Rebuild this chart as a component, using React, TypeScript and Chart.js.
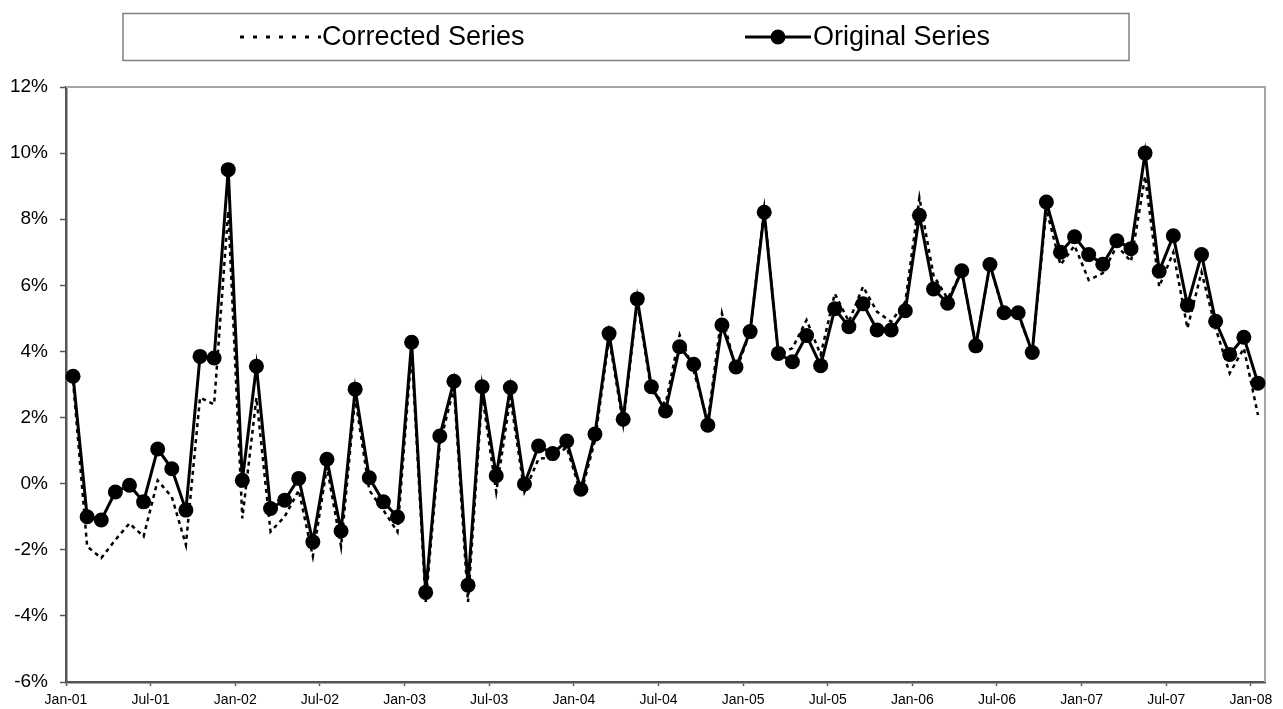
import React, { useEffect, useRef } from 'react';
import { Chart, registerables } from 'chart.js';

Chart.register(...registerables);

// x tick positions (months since Jan-01) and labels
const xTickMonths = [0, 6, 12, 18, 24, 30, 36, 42, 48, 54, 60, 66, 72, 78, 84];
const xTickLabels = ['Jan-01', 'Jul-01', 'Jan-02', 'Jul-02', 'Jan-03', 'Jul-03', 'Jan-04', 'Jul-04', 'Jan-05', 'Jul-05', 'Jan-06', 'Jul-06', 'Jan-07', 'Jul-07', 'Jan-08'];

// monthly values in %, Jan-01 .. Jan-08
const originalSeries = [
  3.25, -1.0, -1.1, -0.25, -0.05, -0.55, 1.05, 0.45, -0.8, 3.85, 3.8, 9.5,
  0.1, 3.55, -0.75, -0.5, 0.16, -1.76, 0.74, -1.43, 2.86, 0.18, -0.55, -1.01,
  4.28, -3.29, 1.44, 3.1, -3.07, 2.93, 0.24, 2.91, -0.01, 1.14, 0.91, 1.29,
  -0.17, 1.5, 4.54, 1.95, 5.59, 2.93, 2.2, 4.14, 3.61, 1.77, 4.8, 3.53,
  4.6, 8.21, 3.94, 3.69, 4.48, 3.57, 5.29, 4.75, 5.44, 4.65, 4.65, 5.23,
  8.12, 5.89, 5.46, 6.44, 4.17, 6.63, 5.17, 5.17, 3.97, 8.52, 7.0, 7.47,
  6.93, 6.64, 7.35, 7.11, 10.0, 6.43, 7.5, 5.4, 6.93, 4.91, 3.91, 4.43,
  3.04,
];

const correctedSeries = [
  3.1, -1.9, -2.25, -1.7, -1.2, -1.6, 0.1, -0.4, -1.85, 2.6, 2.4, 8.25,
  -1.05, 2.6, -1.45, -1.0, -0.2, -2.2, 0.5, -1.9, 2.6, -0.2, -0.8, -1.46,
  4.0, -3.58, 1.2, 2.9, -3.58, 2.7, -0.25, 2.6, -0.25, 0.75, 0.8, 1.1,
  -0.3, 1.3, 4.4, 1.8, 5.5, 2.8, 2.4, 4.5, 3.4, 1.9, 5.15, 3.4,
  4.6, 8.3, 3.9, 4.1, 4.95, 3.9, 5.75, 4.9, 5.96, 5.2, 4.9, 5.5,
  8.65, 6.3, 5.6, 6.4, 4.2, 6.6, 5.15, 5.1, 4.0, 8.3, 6.62, 7.2,
  6.16, 6.37, 7.2, 6.72, 9.3, 5.96, 7.0, 4.7, 6.4, 4.7, 3.34, 4.1,
  2.08,
];

const yMin = -6;
const yMax = 12;
const yStep = 2;

const FONT = "'Liberation Sans', Arial, sans-serif";

export default function App() {
  const ref = useRef<HTMLCanvasElement | null>(null);

  useEffect(() => {
    if (!ref.current) return;
    const toPts = (arr: number[]) => arr.map((v, i) => ({ x: i + 0.5, y: v }));

    const framePlugin = {
      id: 'frame',
      beforeDatasetsDraw(chart: any) {
        const { ctx, chartArea } = chart;
        ctx.save();
        ctx.strokeStyle = '#a6a6a6';
        ctx.lineWidth = 2;
        ctx.beginPath();
        ctx.moveTo(chartArea.left, chartArea.top);
        ctx.lineTo(chartArea.right, chartArea.top);
        ctx.lineTo(chartArea.right, chartArea.bottom);
        ctx.stroke();
        ctx.restore();
      },
    };

    const legendPlugin = {
      id: 'customLegend',
      afterDraw(chart: any) {
        const { ctx } = chart;
        ctx.save();
        // box
        ctx.strokeStyle = '#808080';
        ctx.lineWidth = 1.5;
        ctx.strokeRect(123, 13.5, 1006, 47);
        const cy = 37;
        ctx.strokeStyle = '#000';
        // dotted sample
        ctx.lineWidth = 3;
        ctx.setLineDash([4, 9]);
        ctx.beginPath();
        ctx.moveTo(240, cy);
        ctx.lineTo(321, cy);
        ctx.stroke();
        ctx.setLineDash([]);
        // solid sample with marker
        ctx.lineWidth = 3;
        ctx.beginPath();
        ctx.moveTo(745, cy);
        ctx.lineTo(811, cy);
        ctx.stroke();
        ctx.fillStyle = '#000';
        ctx.beginPath();
        ctx.arc(778, cy, 7.5, 0, Math.PI * 2);
        ctx.fill();
        // text
        ctx.font = `27px ${FONT}`;
        ctx.textBaseline = 'middle';
        ctx.textAlign = 'left';
        ctx.fillText('Corrected Series', 322, cy + 1);
        ctx.fillText('Original Series', 813, cy + 1);
        ctx.restore();
      },
    };

    const chart = new Chart(ref.current, {
      type: 'line',
      data: {
        datasets: [
          {
            label: 'Original Series',
            data: toPts(originalSeries),
            borderColor: '#000',
            backgroundColor: '#000',
            borderWidth: 3,
            pointRadius: 7.5,
            pointBorderWidth: 0,
            pointBackgroundColor: '#000',
            tension: 0,
            order: 1,
            clip: false as any,
          },
          {
            label: 'Corrected Series',
            data: toPts(correctedSeries),
            borderColor: '#000',
            borderWidth: 2.5,
            borderDash: [4, 4],
            pointRadius: 0,
            tension: 0,
            order: 2,
            clip: false as any,
          },
        ],
      },
      options: {
        animation: false,
        responsive: false,
        maintainAspectRatio: false,
        layout: { padding: { top: 87, right: 18, left: 0, bottom: 0 } },
        plugins: {
          legend: { display: false },
          tooltip: { enabled: false },
          title: { display: false },
        },
        scales: {
          x: {
            type: 'linear',
            min: 0,
            max: 85,
            afterBuildTicks: (s: any) => {
              s.ticks = xTickMonths.map((v) => ({ value: v }));
            },
            afterFit: (s: any) => {
              s.height = 27;
            },
            ticks: {
              autoSkip: false,
              maxRotation: 0,
              minRotation: 0,
              padding: 6,
              color: '#000',
              font: { family: FONT, size: 14 },
              callback: (_v: any, i: number) => xTickLabels[i],
            },
            grid: {
              display: true,
              drawOnChartArea: false,
              drawTicks: true,
              tickLength: 4,
              tickColor: '#555',
              tickWidth: 1.5,
            },
            border: { display: true, color: '#555', width: 2.5 },
          },
          y: {
            type: 'linear',
            min: yMin,
            max: yMax,
            afterFit: (s: any) => {
              s.width = 66;
            },
            ticks: {
              stepSize: yStep,
              padding: 12,
              color: '#000',
              font: { family: FONT, size: 19 },
              callback: (v: any) => `${v}%`,
            },
            grid: {
              display: true,
              drawOnChartArea: false,
              drawTicks: true,
              tickLength: 6,
              tickColor: '#555',
              tickWidth: 1.5,
            },
            border: { display: true, color: '#555', width: 2.5 },
          },
        },
      },
      plugins: [framePlugin, legendPlugin],
    } as any);

    return () => chart.destroy();
  }, []);

  return (
    <div style={{ position: 'fixed', left: 0, top: 0, width: 1283, height: 709, background: '#fff' }}>
      <canvas ref={ref} width={1283} height={709} style={{ width: 1283, height: 709, display: 'block' }} />
    </div>
  );
}
